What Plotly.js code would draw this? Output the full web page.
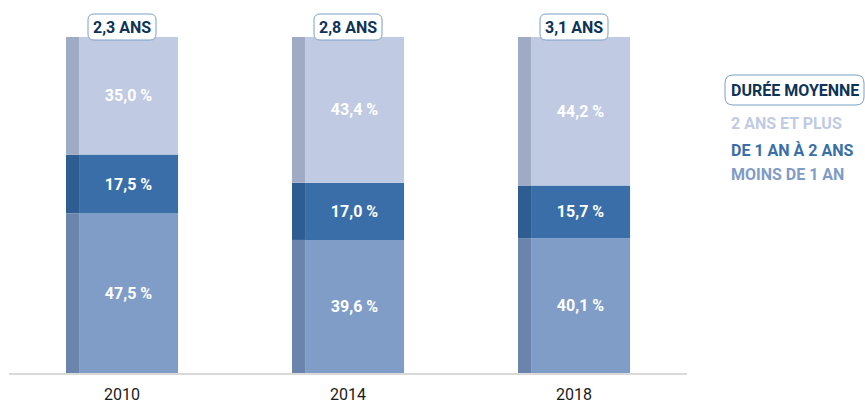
<!DOCTYPE html>
<html>
<head>
<meta charset="utf-8">
<script src="https://cdn.plot.ly/plotly-3.0.1.min.js"></script>
<style>
html,body{margin:0;padding:0;background:#fff;}
#chart{width:865px;height:406px;}
</style>
</head>
<body>
<div id="chart"></div>
<script>
// ---- data ----
const years = ["2010", "2014", "2018"];
const moinsDe1An = [47.5, 39.6, 40.1];
const de1a2Ans = [17.5, 17.0, 15.7];
const deuxAnsEtPlus = [35.0, 43.4, 44.2];
const durees = ["2,3 ANS", "2,8 ANS", "3,1 ANS"];
const legendTitle = "DURÉE MOYENNE";
const seriesNames = ["MOINS DE 1 AN", "DE 1 AN À 2 ANS", "2 ANS ET PLUS"];

// ---- styles ----
const FONT = "Roboto, 'Liberation Sans', sans-serif";
const frontColors = ["#809dc8", "#3a6ea8", "#c0cae2"];
const sideColors = ["#6b84ab", "#2e5d92", "#9faac4"];
const legendColors = ["#7f9cc6", "#3a6ea8", "#c0cae2"];
const NAVY = "#0d3357";
const BOX_LINE = "#7aa0c6";

// plot area geometry (pixels)
const W = 865, H = 406, ML = 9, MR = 178, MT = 37, MB = 33;
const PW = W - ML - MR, PH = H - MT - MB;
const px2paperX = p => (p - ML) / PW;
const px2paperY = p => (H - MB - p) / PH;

function roundRect(x0, y0, x1, y1, r) {
  // pixel coords -> paper path with rounded corners
  const X = px2paperX, Y = px2paperY;
  const rx = r / PW, ry = r / PH;
  const a = X(x0), b = X(x1), top = Y(y0), bot = Y(y1);
  return `M ${a + rx},${top} L ${b - rx},${top} Q ${b},${top} ${b},${top - ry} ` +
         `L ${b},${bot + ry} Q ${b},${bot} ${b - rx},${bot} ` +
         `L ${a + rx},${bot} Q ${a},${bot} ${a},${bot + ry} ` +
         `L ${a},${top - ry} Q ${a},${top} ${a + rx},${top} Z`;
}

const series = [moinsDe1An, de1a2Ans, deuxAnsEtPlus];
const frontOffset = -0.19, frontWidth = 0.438;
const sideOffset = -0.2478, sideWidth = 0.0575;

const traces = [];
let bases = years.map(() => 0);
series.forEach((vals, i) => {
  const b = bases.slice();
  traces.push({
    type: "bar", x: years, y: vals, base: b,
    offset: sideOffset, width: sideWidth,
    marker: {color: sideColors[i], line: {width: 0}},
    hoverinfo: "skip", showlegend: false
  });
  traces.push({
    type: "bar", x: years, y: vals, base: b, name: seriesNames[i],
    offset: frontOffset, width: frontWidth,
    marker: {color: frontColors[i], line: {width: 0}},
    texttemplate: "<b>%{y:.1f} %</b>",
    textposition: "inside", insidetextanchor: "middle", textangle: 0,
    textfont: {family: FONT, size: 16, color: "#ffffff"},
    constraintext: "none",
    showlegend: false
  });
  bases = bases.map((v, k) => v + vals[k]);
});

const annotations = [];
const shapes = [];
years.forEach((yr, k) => {
  const cx = ML + (k + 0.5) * PW / years.length;
  shapes.push({
    type: "path", xref: "paper", yref: "paper", layer: "above",
    path: roundRect(cx - 34, 14, cx + 34, 40, 6),
    fillcolor: "#ffffff", line: {color: BOX_LINE, width: 1}
  });
  annotations.push({
    x: k, y: px2paperY(27), xref: "x", yref: "paper",
    text: "<b>" + durees[k] + "</b>", showarrow: false,
    yanchor: "middle",
    font: {family: FONT, size: 16, color: NAVY}
  });
});
// legend block
shapes.push({
  type: "path", xref: "paper", yref: "paper", layer: "above",
  path: roundRect(725, 75, 864, 105, 8),
  fillcolor: "#ffffff", line: {color: BOX_LINE, width: 1}
});
annotations.push({
  x: px2paperX(794.5), y: px2paperY(90), xref: "paper", yref: "paper", xanchor: "center", yanchor: "middle",
  text: "<b>" + legendTitle + "</b>", showarrow: false,
  font: {family: FONT, size: 16, color: NAVY}
});
const legendPxY = [124, 150, 174];
[2, 1, 0].forEach((si, j) => {
  annotations.push({
    x: px2paperX(729), y: px2paperY(legendPxY[j]), xref: "paper", yref: "paper",
    xanchor: "left", yanchor: "middle",
    text: "<b>" + seriesNames[si] + "</b>", showarrow: false,
    font: {family: FONT, size: 16, color: legendColors[si]}
  });
});

const layout = {
  width: W, height: H,
  margin: {l: ML, r: MR, t: MT, b: MB},
  barmode: "overlay",
  separators: ", ",
  paper_bgcolor: "#ffffff", plot_bgcolor: "#ffffff",
  showlegend: false,
  xaxis: {
    type: "category", range: [-0.5, 2.5], showgrid: false, zeroline: false,
    showline: true, linecolor: "#d9d9d9", linewidth: 2,
    ticks: "", ticklabelstandoff: 6, tickfont: {family: FONT, size: 16, color: "#1a1a1a"}
  },
  yaxis: {
    range: [0, 100], showgrid: false, zeroline: false, showline: false,
    showticklabels: false, ticks: ""
  },
  shapes: shapes,
  annotations: annotations
};

Plotly.newPlot("chart", traces, layout, {displayModeBar: false, staticPlot: true});
</script>
</body>
</html>
